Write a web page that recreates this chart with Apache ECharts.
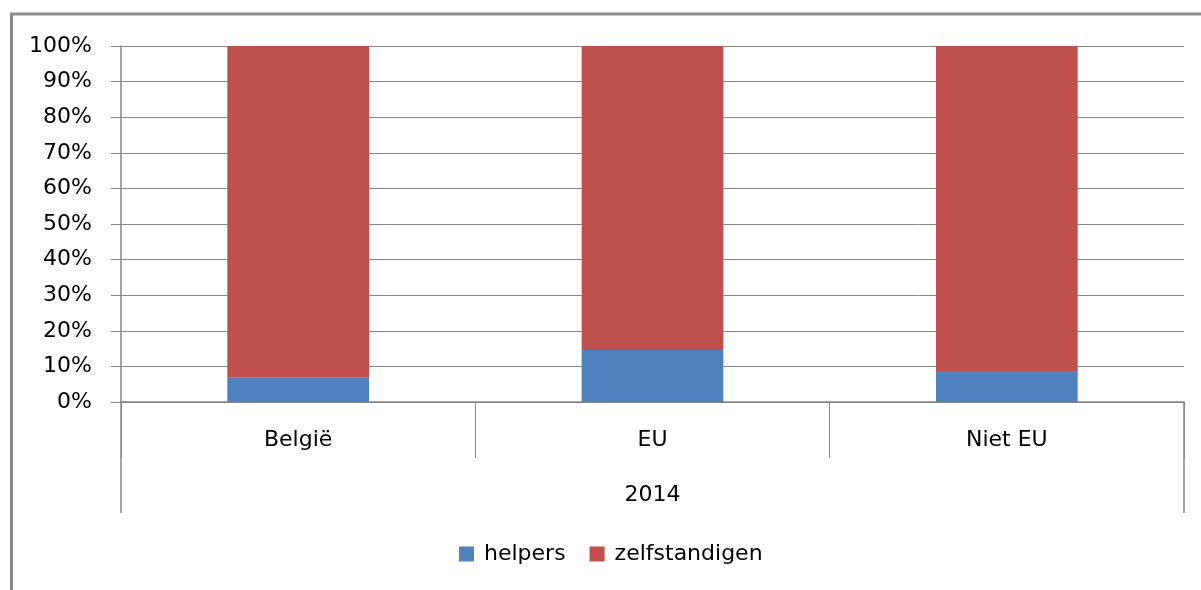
<!DOCTYPE html>
<html>
<head>
<meta charset="utf-8">
<script src="https://cdn.jsdelivr.net/npm/echarts@6/dist/echarts.min.js"></script>
<style>
  html, body { margin: 0; padding: 0; background: #fff; }
  #chart { width: 1201px; height: 590px; }
</style>
</head>
<body>
<div id="chart"></div>
<script>
const categories = ['België', 'EU', 'Niet EU'];
const groups = ['2014'];
const helpers = [6.8, 14.6, 8.7];
const zelfstandigen = [93.2, 85.4, 91.3];

const axisGray = '#868686';
const font = 'DejaVu Sans';
const fontSize = 22;

const chart = echarts.init(document.getElementById('chart'));
chart.setOption({
  animation: false,
  textStyle: { fontFamily: font },
  graphic: [{
    type: 'rect',
    shape: { x: 11.5, y: 14, width: 1400, height: 800 },
    style: { fill: 'none', stroke: '#8a8a8a', lineWidth: 3 },
    silent: true,
  }],
  grid: {
    left: 121,
    right: 17,
    top: 46,
    bottom: 188,
  },
  legend: {
    left: 459,
    top: 543,
    padding: 0,
    itemWidth: 15,
    itemHeight: 15,
    itemGap: 24,
    icon: 'rect',
    textStyle: { fontFamily: font, fontSize: fontSize, color: '#000', padding: [0, 0, 0, 5] },
    data: ['helpers', 'zelfstandigen'],
  },
  xAxis: [{
    type: 'category',
    data: categories,
    position: 'bottom',
    axisLine: { show: true, lineStyle: { color: axisGray, width: 1.5 } },
    axisTick: { show: true, length: 56, lineStyle: { color: axisGray, width: 1 } },
    axisLabel: { margin: 27, fontSize: fontSize, color: '#000', fontFamily: font },
  }, {
    type: 'category',
    data: groups,
    position: 'bottom',
    axisLine: { show: false },
    axisTick: { show: true, length: 111, lineStyle: { color: axisGray, width: 1.5 } },
    axisLabel: { margin: 82, fontSize: fontSize, color: '#000', fontFamily: font },
  }],
  yAxis: {
    type: 'value',
    min: 0,
    max: 100,
    interval: 10,
    axisLine: { show: true, lineStyle: { color: axisGray, width: 1.5 } },
    axisTick: { show: true, length: 10, lineStyle: { color: axisGray } },
    splitLine: { show: true, lineStyle: { color: axisGray, width: 1 } },
    axisLabel: {
      margin: 29,
      fontSize: fontSize,
      color: '#000',
      fontFamily: font,
      formatter: (v) => v + '%',
    },
  },
  series: [{
    name: 'helpers',
    type: 'bar',
    stack: 'total',
    xAxisIndex: 0,
    barCategoryGap: '60%',
    itemStyle: { color: '#4F81BD' },
    data: helpers,
  }, {
    name: 'zelfstandigen',
    type: 'bar',
    stack: 'total',
    xAxisIndex: 0,
    barCategoryGap: '60%',
    itemStyle: { color: '#C0504D' },
    data: zelfstandigen,
  }],
});
</script>
</body>
</html>
